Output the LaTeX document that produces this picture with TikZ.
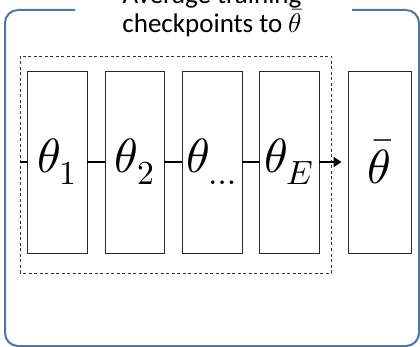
\documentclass[tikz,border=0pt]{standalone}
\usepackage{fontspec}
\usepackage{unicode-math}
\setmainfont{Carlito}
\setmathfont{Latin Modern Math}
\usetikzlibrary{arrows.meta}
\definecolor{frameblue}{RGB}{74,118,168}
\definecolor{boxgray}{RGB}{40,40,40}
\tikzset{
  ckpt/.style={draw=boxgray, line width=0.9pt, minimum width=60pt, minimum height=182pt, inner sep=0pt, font=\fontsize{48}{52}\selectfont, fill=white},
  link/.style={line width=2.2pt, black},
  titletext/.style={font=\fontsize{27}{30}\selectfont, inner sep=0pt, anchor=base}
}
\begin{document}
\begin{tikzpicture}[x=1pt,y=-1pt]
\useasboundingbox (0,0) rectangle (420,347);
\begin{scope}
\clip (0,0) rectangle (420,347);
% outer frame
\draw[frameblue, line width=2pt, rounded corners=13pt]
  (75,10) -- (5,10) -- (5,346) -- (419,346) -- (419,10) -- (352,10);
% title
\node[titletext] (t1) at (212,4) {Average training};
\node[titletext] (t2) at (212,33) {checkpoints to $\bar{\theta}$};
% dashed group
\draw[black!80, line width=0.9pt, dash pattern=on 3pt off 2.5pt] (20,56) rectangle (331,273);
\coordinate (dl) at (20,162);
% boxes
\node[ckpt] (b1) at (57,162) {$\theta_1$};
\node[ckpt, minimum width=59pt] (b2) at (134.5,162) {$\theta_2$};
\node[ckpt] (b3) at (212,162) {$\theta_{\dots}$};
\node[ckpt] (b4) at (289,162) {$\theta_E$};
\node[ckpt, minimum width=63pt] (b5) at (379.5,162) {$\bar{\theta}$};
% links
\draw[link] (dl) -- (b1.west);
\draw[link] (b1.east) -- (b2.west);
\draw[link] (b2.east) -- (b3.west);
\draw[link] (b3.east) -- (b4.west);
\draw[link, -{Triangle[length=8pt,width=10pt]}, shorten >=6pt] (b4.east) -- (b5.west);
\end{scope}
\end{tikzpicture}
\end{document}
